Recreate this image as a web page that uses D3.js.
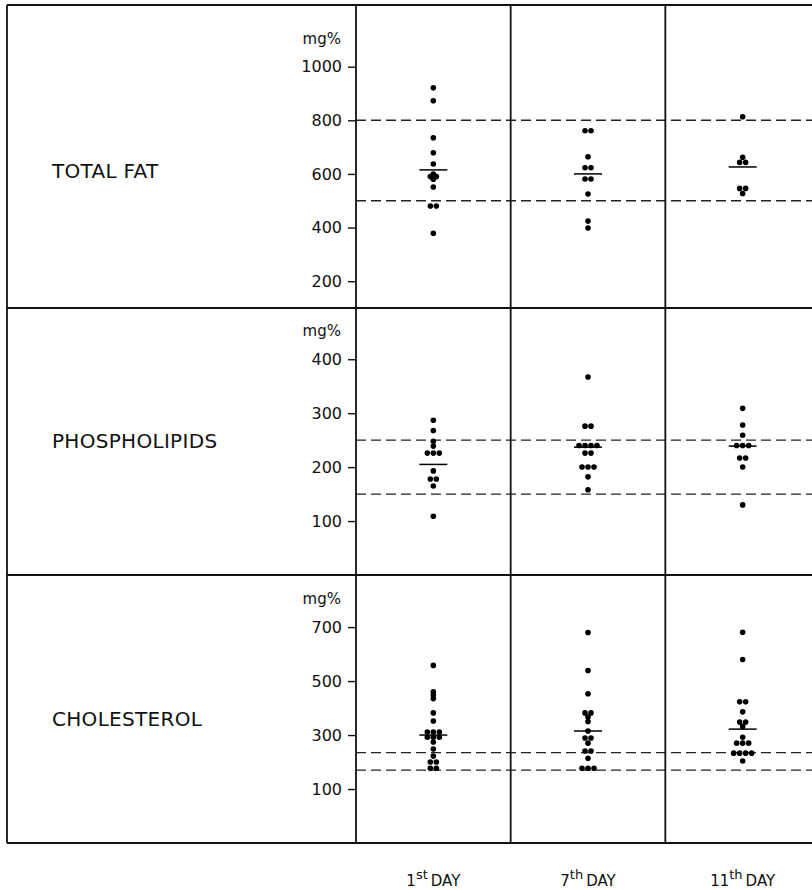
<!DOCTYPE html>
<html>
<head>
<meta charset="utf-8">
<script src="https://cdn.jsdelivr.net/npm/d3@7"></script>
<style>
  body { margin: 0; background: #fff; }
  svg { display: block; }
  text { font-family: "DejaVu Sans", sans-serif; fill: #111; }
</style>
</head>
<body>
<svg width="812" height="890"></svg>
<script>
// data ************************************************************
var dayNumbers = ['1', '7', '11'];
var daySuffixes = ['st', 'th', 'th'];
var panelNames = ['TOTAL FAT', 'PHOSPHOLIPIDS', 'CHOLESTEROL'];

var fatDay1 = [921, 873, 735, 679, 637, 600, 590, 590, 580, 551, 480, 480, 379];
var fatDay7 = [761, 761, 664, 623, 623, 581, 581, 525, 424, 398];
var fatDay11 = [813, 662, 643, 643, 546, 546, 527];
var fatMeans = [615, 600, 626];
var fatNormal = [800, 500];
var fatTicks = [200, 400, 600, 800, 1000];

var plDay1 = [287, 268, 248, 239, 226, 226, 226, 193, 178, 178, 165, 109];
var plDay7 = [367, 276, 276, 240, 240, 240, 240, 226, 226, 200, 200, 200, 182, 158];
var plDay11 = [309, 278, 259, 240, 240, 240, 217, 217, 200, 130];
var plMeans = [205, 237, 239];
var plNormal = [250, 150];
var plTicks = [100, 200, 300, 400];

var cholDay1 = [558, 460, 448, 435, 382, 352, 311, 311, 311, 292, 292, 292, 274, 248, 222, 200, 200, 177, 177];
var cholDay7 = [680, 539, 453, 382, 382, 367, 350, 315, 289, 289, 270, 241, 241, 214, 177, 177, 177];
var cholDay11 = [681, 580, 423, 423, 386, 348, 348, 332, 292, 270, 270, 270, 233, 233, 233, 233, 204];
var cholMeans = [300, 315, 322];
var cholNormal = [235, 170];
var cholTicks = [100, 300, 500, 700];

// layout ***********************************************************
var svg = d3.select('svg');
var frameLeft = 7;
var axisX = 356;
var rightEdge = 812;
var panelTops = [5, 308, 575];
var panelBottoms = [308, 575, 843];
var panelDomains = [[100, 1230], [0, 495], [-100, 893]];
var labelBaselines = [178, 448, 726];

var panels = [
    { name: panelNames[0], days: [fatDay1, fatDay7, fatDay11], means: fatMeans, normal: fatNormal, ticks: fatTicks },
    { name: panelNames[1], days: [plDay1, plDay7, plDay11], means: plMeans, normal: plNormal, ticks: plTicks },
    { name: panelNames[2], days: [cholDay1, cholDay7, cholDay11], means: cholMeans, normal: cholNormal, ticks: cholTicks }
];

var x = d3.scaleBand()
    .domain(dayNumbers)
    .range([axisX, 820]);

function dodge(values, y) {
    // spread dots that sit on the same height side by side
    var groups = [];
    values.slice().sort((a, b) => b - a).forEach(v => {
        var last = groups[groups.length - 1];
        if (last && Math.abs(y(last[0]) - y(v)) < 2) last.push(v);
        else groups.push([v]);
    });
    var out = [];
    groups.forEach(g => g.forEach((v, i) => out.push({ v, dx: (i - (g.length - 1) / 2) * 6 })));
    return out;
}

panels.forEach((p, pi) => {
    var y = d3.scaleLinear()
        .domain(panelDomains[pi])
        .range([panelBottoms[pi], panelTops[pi]]);
    var g = svg.append('g');

    // normal range
    g.selectAll('line.normal')
        .data(p.normal)
        .enter().append('line')
        .attr('x1', axisX).attr('x2', rightEdge)
        .attr('y1', d => y(d)).attr('y2', d => y(d))
        .attr('stroke', '#222')
        .attr('stroke-width', 1.4)
        .attr('stroke-dasharray', '10,5');

    // axis
    var axis = d3.axisLeft(y)
        .tickValues(p.ticks)
        .tickFormat(d3.format('d'))
        .tickSize(8)
        .tickPadding(6);
    var ag = g.append('g')
        .attr('transform', `translate(${axisX},0)`)
        .call(axis);
    ag.select('.domain').remove();
    ag.selectAll('line').attr('stroke', '#111').attr('stroke-width', 1.4);
    ag.selectAll('text')
        .style('font-family', '"DejaVu Sans", sans-serif')
        .style('font-size', '16px')
        .attr('fill', '#111');

    g.append('text')
        .attr('x', axisX - 15)
        .attr('y', y(p.ticks[p.ticks.length - 1]) - 23)
        .attr('text-anchor', 'end')
        .style('font-size', '15px')
        .text('mg%');

    g.append('text')
        .attr('x', 52)
        .attr('y', labelBaselines[pi])
        .style('font-size', '20px')
        .style('letter-spacing', '0.3px')
        .text(p.name);

    // dots and means
    p.days.forEach((vals, di) => {
        var cx = x(dayNumbers[di]) + x.bandwidth() / 2;
        g.selectAll(null)
            .data(dodge(vals, y))
            .enter().append('circle')
            .attr('cx', d => cx + d.dx)
            .attr('cy', d => y(d.v))
            .attr('r', 2.8)
            .attr('fill', '#000');
        g.append('line')
            .attr('x1', cx - 14).attr('x2', cx + 14)
            .attr('y1', y(p.means[di])).attr('y2', y(p.means[di]))
            .attr('stroke', '#000')
            .attr('stroke-width', 1.5);
    });
});

// frame ************************************************************
var hLines = [panelTops[0], panelTops[1], panelTops[2], panelBottoms[2]];
svg.selectAll('line.h')
    .data(hLines)
    .enter().append('line')
    .attr('x1', frameLeft).attr('x2', rightEdge)
    .attr('y1', d => d).attr('y2', d => d)
    .attr('stroke', '#111')
    .attr('stroke-width', 1.8);

var vLines = [frameLeft, axisX].concat(dayNumbers.slice(1).map(d => x(d)));
svg.selectAll('line.v')
    .data(vLines)
    .enter().append('line')
    .attr('x1', d => d).attr('x2', d => d)
    .attr('y1', panelTops[0]).attr('y2', panelBottoms[2])
    .attr('stroke', '#111')
    .attr('stroke-width', 1.8);

// day labels *******************************************************
var dayLabels = svg.selectAll('text.day')
    .data(dayNumbers)
    .enter().append('text')
    .attr('x', d => x(d) + x.bandwidth() / 2)
    .attr('y', 886)
    .attr('text-anchor', 'middle')
    .style('font-size', '15px');
dayLabels.append('tspan').text(d => d);
dayLabels.append('tspan')
    .attr('dy', -7)
    .style('font-size', '13px')
    .text((d, i) => daySuffixes[i]);
dayLabels.append('tspan')
    .attr('dy', 7)
    .attr('dx', 3)
    .text('DAY');
</script>
</body>
</html>
